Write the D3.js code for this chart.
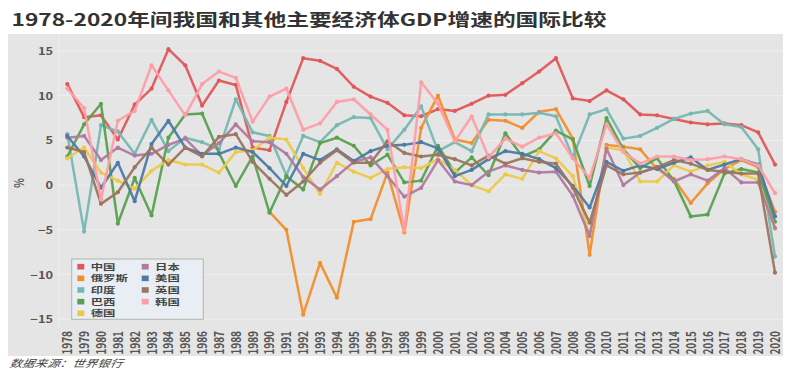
<!DOCTYPE html>
<html><head><meta charset="utf-8">
<script src="https://cdn.jsdelivr.net/npm/d3@7"></script>
<style>
html,body{margin:0;padding:0;background:#fff;}
svg{display:block;font-family:"Noto Sans CJK SC","Noto Sans",sans-serif;}
</style></head>
<body>
<svg id="chart" width="796" height="378"></svg>
<script>
const years = ["1978","1979","1980","1981","1982","1983","1984","1985","1986","1987",
"1988","1989","1990","1991","1992","1993","1994","1995","1996","1997",
"1998","1999","2000","2001","2002","2003","2004","2005","2006","2007",
"2008","2009","2010","2011","2012","2013","2014","2015","2016","2017",
"2018","2019","2020"];
const yTicks = [-15,-10,-5,0,5,10,15];
const seriesNames = ["中国","俄罗斯","印度","巴西","德国","日本","美国","英国","韩国"];
const seriesColors = ["#e15759","#f28e2b","#76b7b2","#59a14f","#edc948","#b07aa1","#4e79a7","#9c755f","#ff9da7"];

const china = [11.3,7.6,7.8,5.1,9.0,10.8,15.2,13.4,8.9,11.7, 11.2,4.2,3.9,9.3,14.2,13.9,13.0,11.0,9.9,9.2, 7.8,7.7,8.5,8.3,9.1,10.0,10.1,11.4,12.7,14.2, 9.7,9.4,10.6,9.6,7.9,7.8,7.4,7.0,6.8,6.9, 6.7,5.9,2.3];
const russia = [null,null,null,null,null,null,null,null,null,null, null,null,-3.0,-5.0,-14.5,-8.7,-12.6,-4.1,-3.8,1.4, -5.3,6.4,10.0,5.1,4.7,7.3,7.2,6.4,8.2,8.5, 5.2,-7.8,4.5,4.3,4.0,1.8,0.7,-2.0,0.2,1.8, 2.8,2.0,-3.0];
const india = [5.7,-5.2,6.7,6.0,3.5,7.3,3.8,5.3,4.8,4.0, 9.6,5.9,5.5,1.1,5.5,4.8,6.7,7.6,7.5,4.0, 6.2,8.8,3.8,4.8,3.8,7.9,7.9,7.9,8.1,7.7, 3.1,7.9,8.5,5.2,5.5,6.4,7.4,8.0,8.3,6.8, 6.5,4.0,-8.0];
const brazil = [3.2,6.8,9.1,-4.3,0.8,-3.4,5.3,7.9,8.0,3.6, -0.1,3.2,-3.1,1.0,-0.5,4.7,5.3,4.4,2.2,3.4, 0.3,0.5,4.4,1.4,3.1,1.1,5.8,3.2,4.0,6.1, 5.1,-0.1,7.5,4.0,1.9,3.0,0.5,-3.5,-3.3,1.3, 1.8,1.4,-4.1];
const germany = [3.0,4.2,1.4,0.5,-0.4,1.6,2.8,2.3,2.3,1.4, 3.7,3.9,5.3,5.1,1.9,-1.0,2.5,1.5,0.8,1.8, 2.0,1.9,2.9,1.7,0.0,-0.7,1.2,0.7,3.8,3.0, 1.0,-5.7,4.2,3.9,0.4,0.4,2.2,1.5,2.2,2.6, 1.2,0.6,-4.9];
const japan = [5.3,5.5,2.8,4.2,3.3,3.5,4.5,5.2,3.3,4.7, 6.8,4.9,4.8,3.5,0.9,-0.5,1.0,2.6,3.1,1.0, -1.3,-0.3,2.8,0.4,0.0,1.5,2.2,1.7,1.4,1.5, -1.2,-5.7,4.1,0.0,1.4,2.0,0.4,1.2,0.5,1.9, 0.3,0.3,-4.8];
const usa = [5.5,3.2,-0.3,2.5,-1.8,4.6,7.2,4.2,3.5,3.5, 4.2,3.7,1.9,-0.1,3.5,2.8,4.0,2.7,3.8,4.4, 4.5,4.8,4.1,1.0,1.7,2.9,3.8,3.5,2.9,1.9, -0.1,-2.5,2.6,1.6,2.2,1.8,2.5,3.1,1.7,2.3, 2.9,2.3,-3.5];
const uk = [4.2,3.7,-2.1,-0.8,2.0,4.2,2.3,4.2,3.2,5.4, 5.7,2.6,0.7,-1.1,0.4,2.5,3.9,2.5,2.5,4.9, 3.6,3.2,3.4,2.9,2.2,3.3,2.4,3.0,2.6,2.4, -0.3,-4.2,2.2,1.2,1.4,2.0,2.8,2.4,1.7,1.5, 1.3,1.3,-9.8];
const korea = [10.8,8.6,-1.6,7.2,8.3,13.4,10.6,7.8,11.3,12.7, 12.0,7.1,9.9,10.8,6.2,6.9,9.3,9.6,7.9,6.2, -5.1,11.5,9.1,4.9,7.7,3.1,5.2,4.3,5.3,5.8, 3.0,0.8,6.8,3.7,2.4,3.2,3.2,2.8,2.9,3.2, 2.9,2.2,-0.9];

const seriesValues = [china,russia,india,brazil,germany,japan,usa,uk,korea];
const series = seriesNames.map((n,i)=>({name:n,color:seriesColors[i],values:seriesValues[i]}));

const SX = 1.28; // horizontal glyph stretch seen in the picture
const svg = d3.select("#chart");

// panel background
svg.append("rect").attr("x",8).attr("y",34).attr("width",775).attr("height",322).attr("fill","#e5e5e5");

const x = d3.scalePoint().domain(years).range([67.3,775]);
const y = d3.scaleLinear().domain([-15,15]).range([319.2,51]);

// grid
svg.append("g").selectAll("line").data(yTicks).join("line")
  .attr("x1",58.7).attr("x2",783).attr("y1",d=>y(d)).attr("y2",d=>y(d))
  .attr("stroke","#efefef").attr("stroke-width",1);
svg.append("line").attr("x1",58.7).attr("x2",58.7).attr("y1",35).attr("y2",326)
  .attr("stroke","#efefef").attr("stroke-width",1);

// y axis
const yAxis = svg.append("g").attr("transform","translate(62,0)")
  .call(d3.axisLeft(y).tickValues(yTicks).tickSize(0).tickPadding(9).tickFormat(d3.format("d")));
yAxis.select(".domain").remove();
yAxis.selectAll("text").attr("x",0).attr("dy","0.35em")
  .attr("transform",`translate(-9,0) scale(${SX},1)`)
  .attr("fill","#555").attr("font-size","10px").attr("font-weight","bold")
  .attr("font-family","'Noto Sans CJK SC',sans-serif");

// x axis
const xAxis = svg.append("g").attr("transform","translate(0,331)")
  .call(d3.axisBottom(x).tickSize(0).tickPadding(0));
xAxis.select(".domain").remove();
xAxis.selectAll("text").attr("x",0).attr("y",0).attr("dy","0.35em")
  .attr("text-anchor","end")
  .attr("transform",`scale(${SX},1) rotate(-90)`)
  .attr("fill","#555").attr("font-size","10px").attr("font-weight","bold")
  .attr("font-family","'Noto Sans CJK SC',sans-serif");

// y label
svg.append("text").attr("transform",`translate(20,183) scale(${SX},1) rotate(-90)`)
  .attr("text-anchor","middle").attr("dy","0.35em")
  .attr("font-size","10px").attr("font-weight","bold").attr("fill","#555").text("%");

// lines
const line = d3.line().defined(d=>d.v!=null).x(d=>x(d.year)).y(d=>y(d.v));
const sg = svg.append("g").selectAll("g").data(series).join("g");
sg.append("path")
  .attr("d",s=>line(s.values.map((v,i)=>({year:years[i],v}))))
  .attr("fill","none").attr("stroke",s=>s.color).attr("stroke-width",2.5)
  .attr("stroke-linejoin","round").attr("opacity",0.95);
sg.selectAll("circle").data(s=>s.values.map((v,i)=>({year:years[i],v,color:s.color})).filter(d=>d.v!=null))
  .join("circle").attr("cx",d=>x(d.year)).attr("cy",d=>y(d.v)).attr("r",2.1)
  .attr("fill",d=>d.color);

// legend
const lg = svg.append("g");
lg.append("rect").attr("x",71.7).attr("y",259).attr("width",131.6).attr("height",60.3)
  .attr("fill","#e8eef3").attr("stroke","#b3b3aa").attr("stroke-width",1);
const li = lg.selectAll("g.item").data(series).join("g").attr("class","item")
  .attr("transform",(d,i)=>`translate(${i<5?77.3:141.7},${266.7+(i<5?i:i-5)*11.65})`);
li.append("rect").attr("x",0).attr("y",-2.8).attr("width",7).attr("height",5.6).attr("fill",d=>d.color);
li.append("text").attr("transform",`translate(13.4,0) scale(1.55,1)`).attr("dy","0.36em")
  .attr("font-size","8px").attr("font-weight","bold").attr("fill","#444").text(d=>d.name);

// title
svg.append("text").attr("x",11.5).attr("y",25.5)
  .attr("font-size","16.5px").attr("font-weight","bold").attr("fill","#333")
  .attr("textLength",595).attr("lengthAdjust","spacingAndGlyphs")
  .text("1978-2020年间我国和其他主要经济体GDP增速的国际比较");

// source
svg.append("text").attr("x",9).attr("y",367)
  .attr("font-size","10px").attr("font-style","italic").attr("fill","#444")
  .attr("textLength",113).attr("lengthAdjust","spacingAndGlyphs")
  .attr("transform","skewX(-12) translate(78,0)")
  .text("数据来源：世界银行");
</script>
</body></html>
